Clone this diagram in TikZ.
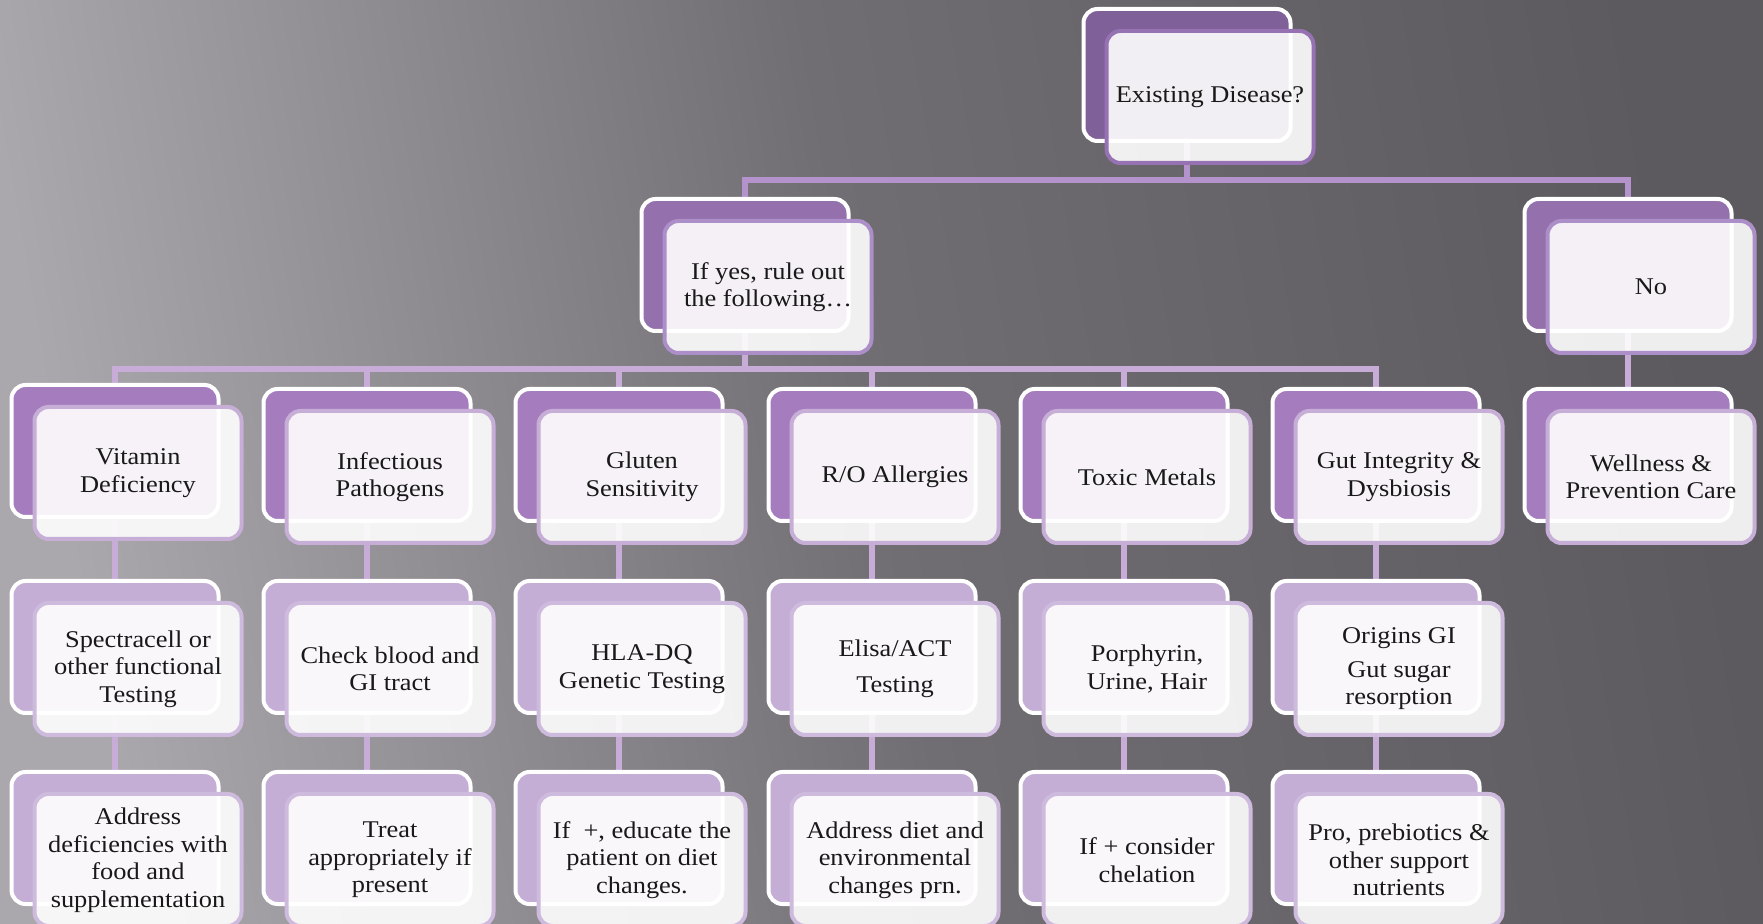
\documentclass[tikz,border=0pt]{standalone}
\usepackage{fontspec}
\setmainfont[FakeStretch=1.1]{Liberation Serif}
\usepackage{tikz}
\usetikzlibrary{calc}

\definecolor{bgA}{RGB}{170,167,173}
\definecolor{bgB}{RGB}{112,109,115}
\definecolor{bgC}{RGB}{92,89,95}
\definecolor{backA}{RGB}{128,96,152}
\definecolor{backB}{RGB}{148,112,172}
\definecolor{backC}{RGB}{165,125,190}
\definecolor{backD}{RGB}{196,174,213}
\definecolor{frameA}{RGB}{150,114,178}
\definecolor{frameB}{RGB}{172,142,200}
\definecolor{frameC}{RGB}{198,174,214}
\definecolor{frameD}{RGB}{205,186,221}
\definecolor{linkA}{RGB}{180,146,204}
\definecolor{linkB}{RGB}{198,172,214}

\pgfdeclarelayer{bg}
\pgfdeclarelayer{links}
\pgfsetlayers{bg,links,main}

\tikzset{
  backbox/.style={draw=white, line width=2pt, rounded corners=7pt,
    minimum width=103.5pt, minimum height=66pt, inner sep=0pt},
  frontbox/.style={line width=2pt, rounded corners=7pt,
    minimum width=103.5pt, minimum height=66pt, inner sep=0pt,
    fill=white, fill opacity=0.9, text opacity=1, text=black!90,
    align=center, font=\fontsize{12}{13.75}\selectfont},
  back1/.style={backbox, fill=backA},
  back2/.style={backbox, fill=backB},
  back3/.style={backbox, fill=backC},
  back4/.style={backbox, fill=backD},
  front1/.style={frontbox, draw=frameA},
  front2/.style={frontbox, draw=frameB},
  front3/.style={frontbox, draw=frameC},
  front4/.style={frontbox, draw=frameD},
  link/.style={line width=2.75pt}
}

\begin{document}
\begin{tikzpicture}[x=0.5pt, y=-0.5pt]

\path[use as bounding box] (0,0) rectangle (1763,924);
\clip (0,0) rectangle (1763,924);

% background
\begin{pgfonlayer}{bg}
\shade[left color=bgA, right color=bgC, middle color=bgB, shading angle=100]
  (0,0) rectangle (1763,924);
\end{pgfonlayer}

% top
\node[back1] (dis-b) at (1187,75) {};
\node[front1] (dis) at (1210,97) {Existing Disease?};

% yes / no
\node[back2] (yes-b) at (745,265) {};
\node[front2] (yes) at (768,287) {If yes, rule out\\the following\ldots};
\node[back2] (no-b) at (1628,265) {};
\node[front2] (no) at (1651,287) {No};

% conditions
\node[back3] (vit-b) at (115,451) {};
\node[front3] (vit) at (138,473) {Vitamin\\Deficiency};
\node[back3] (inf-b) at (367,455) {};
\node[front3] (inf) at (390,477) {Infectious\\Pathogens};
\node[back3] (glu-b) at (619,455) {};
\node[front3] (glu) at (642,477) {Gluten\\Sensitivity};
\node[back3] (all-b) at (872,455) {};
\node[front3] (all) at (895,477) {R/O Allergies};
\node[back3] (met-b) at (1124,455) {};
\node[front3] (met) at (1147,477) {Toxic Metals};
\node[back3] (gut-b) at (1376,455) {};
\node[front3] (gut) at (1399,477) {Gut Integrity \&\\Dysbiosis};
\node[back3] (well-b) at (1628,455) {};
\node[front3] (well) at (1651,477) {Wellness \&\\Prevention Care};

% tests
\node[back4] (vit-test-b) at (115,647) {};
\node[front4] (vit-test) at (138,669) {Spectracell or\\other functional\\Testing};
\node[back4] (inf-test-b) at (367,647) {};
\node[front4] (inf-test) at (390,669) {Check blood and\\GI tract};
\node[back4] (glu-test-b) at (619,647) {};
\node[front4] (glu-test) at (642,669) {HLA-DQ\\Genetic Testing};
\node[back4] (all-test-b) at (872,647) {};
\node[front4] (all-test) at (895,669) {Elisa/ACT\\[4pt]Testing};
\node[back4] (met-test-b) at (1124,647) {};
\node[front4] (met-test) at (1147,669) {Porphyrin,\\Urine, Hair};
\node[back4] (gut-test-b) at (1376,647) {};
\node[front4] (gut-test) at (1399,669) {Origins GI\\[3pt]Gut sugar\\resorption};

% care
\node[back4] (vit-care-b) at (115,838) {};
\node[front4] (vit-care) at (138,860) {Address\\deficiencies with\\food and\\supplementation};
\node[back4] (inf-care-b) at (367,838) {};
\node[front4] (inf-care) at (390,860) {Treat\\appropriately if\\present};
\node[back4] (glu-care-b) at (619,838) {};
\node[front4] (glu-care) at (642,860) {If\ \ +, educate the\\patient on diet\\changes.};
\node[back4] (all-care-b) at (872,838) {};
\node[front4] (all-care) at (895,860) {Address diet and\\environmental\\changes prn.};
\node[back4] (met-care-b) at (1124,838) {};
\node[front4] (met-care) at (1147,860) {If + consider\\chelation};
\node[back4] (gut-care-b) at (1376,838) {};
\node[front4] (gut-care) at (1399,860) {Pro, prebiotics \&\\other support\\nutrients};

% connectors
\coordinate (bus1) at (0,180);
\coordinate (bus2) at (0,369);
\begin{pgfonlayer}{links}
\draw[link, linkA] (dis-b.center) -- (dis-b.center |- bus1) -| (yes-b.center);
\draw[link, linkA] (dis-b.center |- bus1) -| (no-b.center);
\foreach \c in {vit,inf,glu,all,met,gut} {
  \draw[link, linkB] (yes-b.center) -- (yes-b.center |- bus2) -| (\c-b.center);
  \draw[link, linkB] (\c-b.center) -- (\c-test-b.center);
  \draw[link, linkB] (\c-test-b.center) -- (\c-care-b.center);
}
\draw[link, linkB] (no-b.center) -- (well-b.center);
\end{pgfonlayer}

\end{tikzpicture}
\end{document}
